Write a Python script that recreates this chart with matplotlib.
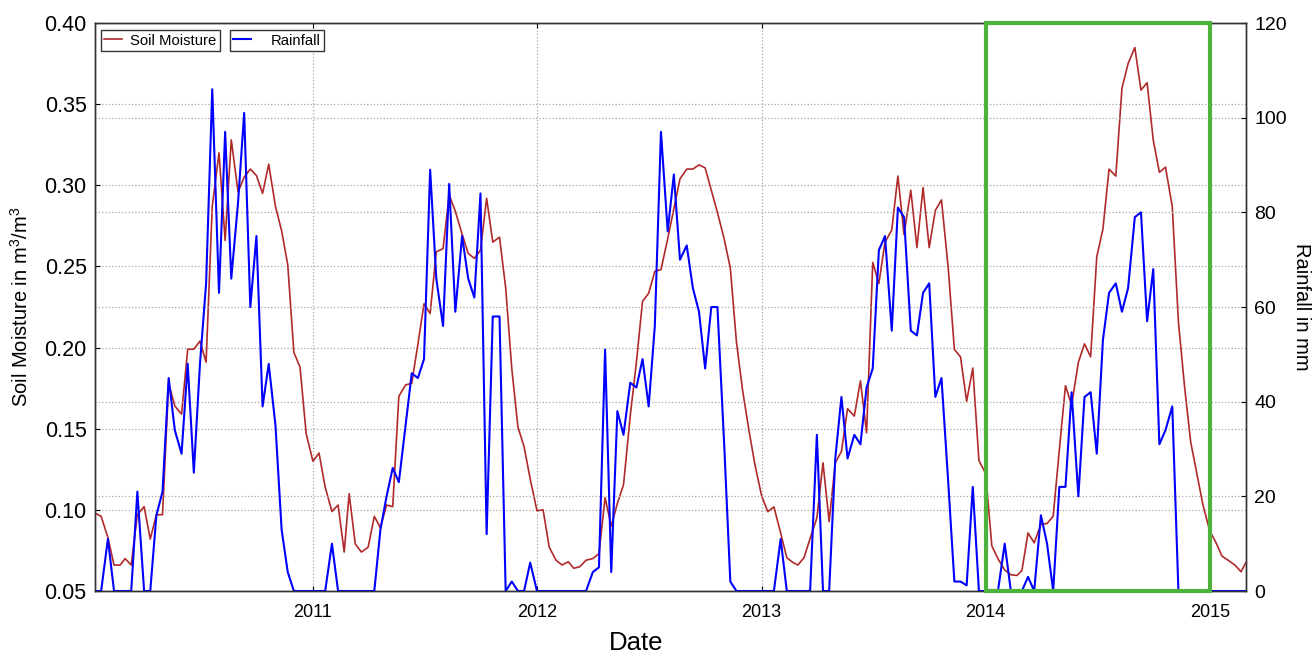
import numpy as np
import pandas as pd
import matplotlib
matplotlib.use("Agg")
import matplotlib.pyplot as plt
import matplotlib.dates as mdates
from matplotlib.patches import Rectangle

plt.rcParams['font.family'] = ['Liberation Sans', 'DejaVu Sans']
plt.rcParams['mathtext.default'] = 'regular'

# dekadal series, 2010-01-11 .. 2015-03-01
start = "2010-01-11"
end = "2015-03-01"

soil_moisture = [
    0.098, 0.096, 0.083, 0.066, 0.066, 0.070, 0.066, 0.097, 0.102, 0.082,
    0.097, 0.097, 0.178, 0.164, 0.159, 0.199, 0.199, 0.204, 0.191, 0.287,
    0.320, 0.266, 0.328, 0.296, 0.305, 0.310, 0.306, 0.295, 0.313, 0.287,
    0.272, 0.251, 0.197, 0.188, 0.147, 0.130, 0.135, 0.114, 0.099, 0.103,
    0.074, 0.110, 0.079, 0.074, 0.077, 0.096, 0.089, 0.103, 0.102, 0.170,
    0.177, 0.178, 0.202, 0.227, 0.221, 0.259, 0.261, 0.294, 0.284, 0.270,
    0.258, 0.255, 0.260, 0.292, 0.265, 0.268, 0.237, 0.187, 0.151, 0.139,
    0.119, 0.0995, 0.100, 0.077, 0.069, 0.066, 0.068, 0.064, 0.065, 0.069,
    0.070, 0.073, 0.1075, 0.090, 0.104, 0.1155, 0.158, 0.191, 0.2285, 0.2335,
    0.247, 0.248, 0.267, 0.2856, 0.304, 0.310, 0.310, 0.3126, 0.3107, 0.297,
    0.2833, 0.267, 0.249, 0.2034, 0.1737, 0.1498, 0.128, 0.1087, 0.0989, 0.1018,
    0.0858, 0.0705, 0.0676, 0.066, 0.0705, 0.0824, 0.095, 0.129, 0.0927, 0.129,
    0.136, 0.1623, 0.1578, 0.1795, 0.1475, 0.2525, 0.2395, 0.265, 0.2724, 0.3057,
    0.2696, 0.297, 0.2616, 0.2986, 0.2616, 0.2845, 0.291, 0.249, 0.1989, 0.1943,
    0.1669, 0.1874, 0.1304, 0.1224, 0.0779, 0.0699, 0.063, 0.060, 0.0596, 0.0626,
    0.0858, 0.0797, 0.0911, 0.0916, 0.0961, 0.137, 0.1765, 0.1646, 0.1909, 0.2023,
    0.1943, 0.256, 0.273, 0.310, 0.3057, 0.3598, 0.375, 0.3849, 0.3587, 0.3632,
    0.3279, 0.308, 0.3112, 0.2868, 0.216, 0.176, 0.1418, 0.1224, 0.103, 0.087,
    0.080, 0.0715, 0.0687, 0.066, 0.0619, 0.0676,
]

rainfall = [
    0, 0, 11, 0, 0, 0, 0, 21, 0, 0,
    16, 21, 45, 34, 29, 48, 25, 48, 65, 106,
    63, 97, 66, 82, 101, 60, 75, 39, 48, 35,
    13, 4, 0, 0, 0, 0, 0, 0, 10, 0,
    0, 0, 0, 0, 0, 0, 13, 20, 26, 23,
    35, 46, 45, 49, 89, 66, 56, 86, 59, 75,
    66, 62, 84, 12, 58, 58, 0, 2, 0, 0,
    6, 0, 0, 0, 0, 0, 0, 0, 0, 0,
    4, 5, 51, 4, 38, 33, 44, 43, 49, 39,
    56, 97, 76, 88, 70, 73, 64, 59, 47, 60,
    60, 31, 2, 0, 0, 0, 0, 0, 0, 0,
    11, 0, 0, 0, 0, 0, 33, 0, 0, 28,
    41, 28, 33, 31, 43, 47, 72, 75, 55, 81,
    79, 55, 54, 63, 65, 41, 45, 23, 2, 2,
    1.2, 22, 0, 0, 0, 0, 10, 0, 0, 0,
    3, 0, 16, 10, 0, 22, 22, 42, 20, 41,
    42, 29, 53, 63, 65, 59, 64, 79, 80, 57,
    68, 31, 34, 39, 0, 0, 0, 0, 0, 0,
    0, 0, 0, 0, 0, 0,
]

highlight = ["2014-01-01", "2015-01-01"]

# dekads: 1st, 11th and 21st of each month
dates = [pd.Timestamp(y, m, d) for y in range(2010, 2016)
         for m in range(1, 13) for d in (1, 11, 21)]
dates = [t for t in dates if pd.Timestamp(start) <= t <= pd.Timestamp(end)]

fig = plt.figure(figsize=(13.14, 6.54), dpi=100)
ax = fig.add_axes([0.0723, 0.0963, 0.8759, 0.8685])
ax2 = ax.twinx()

l1, = ax.plot(dates, soil_moisture, color='#b02a2a', lw=1.2, label='Soil Moisture')
l2, = ax2.plot(dates, rainfall, color='blue', lw=1.5, label='Rainfall')

ax.set_xlim(dates[0], dates[-1])
ax.set_ylim(0.05, 0.40)
ax2.set_ylim(0, 120)
ax.set_yticks(np.arange(0.05, 0.401, 0.05))
ax.yaxis.set_major_formatter(plt.FormatStrFormatter('%.2f'))
ax2.set_yticks(np.arange(0, 121, 20))
ax.xaxis.set_major_locator(mdates.YearLocator())
ax.xaxis.set_major_formatter(mdates.DateFormatter('%Y'))

ax.grid(True, color='0.65', linestyle=':', lw=0.9)
ax2.grid(True, axis='y', color='0.65', linestyle=':', lw=0.9)

ax.tick_params(axis='y', labelsize=15.5, direction='in', pad=6)
ax.tick_params(axis='x', labelsize=13, direction='in', top=True, pad=9.5)
ax2.tick_params(axis='y', labelsize=14, direction='in', pad=6)

ax.set_xlabel('Date', fontsize=18.5)
ax.xaxis.set_label_coords(0.470, -0.07)
ax.set_ylabel('Soil Moisture in m$^3$/m$^3$', fontsize=14.5)
ax.yaxis.set_label_coords(-0.055, 0.5)
ax2.set_ylabel('Rainfall in mm', fontsize=14.5, rotation=270, labelpad=17)

for a in (ax, ax2):
    for s in a.spines.values():
        s.set_linewidth(1.0)
        s.set_color('0.2')

leg1 = ax.legend(handles=[l1], loc='upper left', bbox_to_anchor=(0.005, 0.988),
                 fontsize=10.7, fancybox=False, framealpha=1, edgecolor='0.2',
                 borderaxespad=0, borderpad=0.25, handlelength=1.2,
                 handletextpad=0.55)
leg2 = ax2.legend(handles=[l2], loc='upper left', bbox_to_anchor=(0.117, 0.988),
                  fontsize=10.7, fancybox=False, framealpha=1, edgecolor='0.2',
                  borderaxespad=0, borderpad=0.25, handlelength=1.2,
                  handletextpad=1.3)
leg1.get_frame().set_linewidth(1.0)
leg2.get_frame().set_linewidth(1.0)

x0 = mdates.date2num(pd.Timestamp(highlight[0]))
x1 = mdates.date2num(pd.Timestamp(highlight[1]))
ax2.add_patch(Rectangle((x0, 0), x1 - x0, 120, fill=False, edgecolor='#4db33d',
                        lw=3, zorder=10, clip_on=False))

fig.savefig('out.png', dpi=100)
